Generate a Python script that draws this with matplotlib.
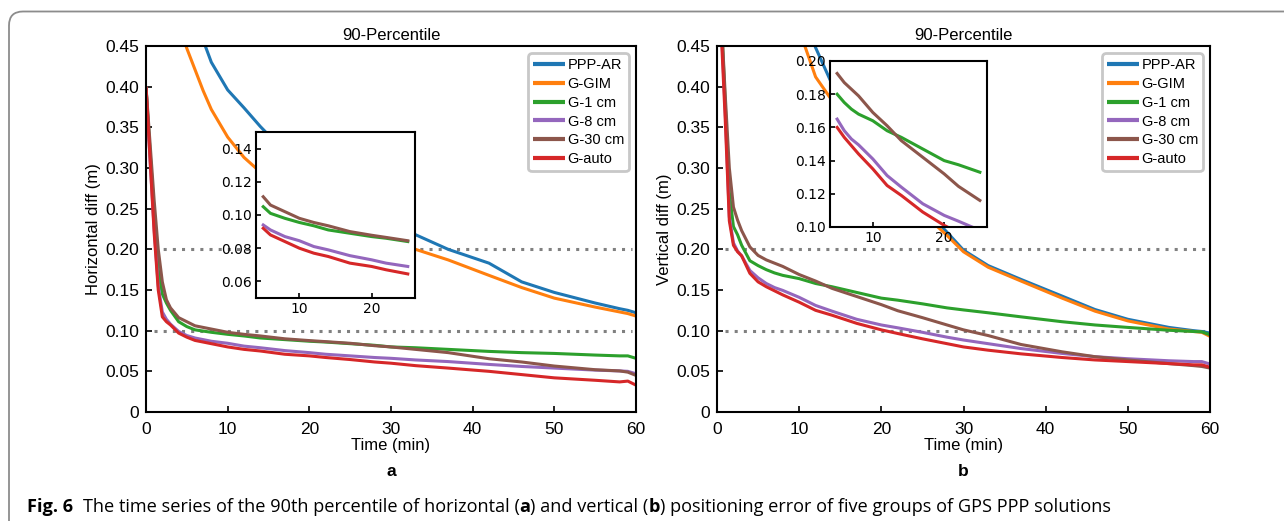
import numpy as np
import matplotlib
matplotlib.use("Agg")
import matplotlib.pyplot as plt
from matplotlib.patches import FancyBboxPatch
from matplotlib.transforms import IdentityTransform
from matplotlib.ticker import FuncFormatter

SERIES = ["PPP-AR", "G-GIM", "G-1 cm", "G-8 cm", "G-30 cm", "G-auto"]
COLORS = ["#1f77b4", "#ff7f0e", "#2ca02c", "#9467bd", "#8c564b", "#d62728"]
THRESHOLDS = [0.10, 0.20]

# time grid (min), shared by both panels
time_min = [0, 0.5, 1, 1.5, 2, 2.5, 3, 4, 5, 6, 7, 8, 10, 12, 14, 17, 20, 22, 25,
            28, 30, 33, 37, 42, 46, 50, 55, 58, 59, 60]
nan = np.nan

# (a) horizontal 90th percentile (m)
h_ppp_ar = [nan, nan, nan, nan, nan, nan, nan, nan, nan, 0.49, 0.457, 0.43, 0.396, 0.374,
            0.351, 0.32, 0.293, 0.277, 0.257, 0.240, 0.232, 0.218, 0.200, 0.183, 0.160,
            0.147, 0.134, 0.127, 0.125, 0.122]
h_g_gim = [nan, nan, nan, nan, nan, nan, nan, 0.478, 0.447, 0.421, 0.395, 0.372, 0.338, 0.313,
           0.295, 0.272, 0.252, 0.241, 0.228, 0.216, 0.210, 0.200, 0.187, 0.168, 0.153,
           0.140, 0.129, 0.123, 0.121, 0.118]
h_g_1cm = [0.40, 0.32, 0.245, 0.175, 0.145, 0.134, 0.125, 0.111, 0.105, 0.101, 0.0995, 0.098,
           0.0955, 0.0935, 0.091, 0.089, 0.087, 0.086, 0.084, 0.082, 0.080, 0.079, 0.077,
           0.0745, 0.073, 0.072, 0.070, 0.069, 0.069, 0.066]
h_g_8cm = [0.40, 0.31, 0.225, 0.155, 0.123, 0.114, 0.108, 0.099, 0.094, 0.091, 0.089, 0.087,
           0.0845, 0.081, 0.079, 0.0755, 0.073, 0.071, 0.069, 0.067, 0.066, 0.064, 0.062,
           0.0585, 0.056, 0.054, 0.0515, 0.0505, 0.050, 0.047]
h_g_30cm = [0.40, 0.33, 0.26, 0.20, 0.16, 0.138, 0.128, 0.116, 0.111, 0.106, 0.104, 0.102,
            0.098, 0.0955, 0.0935, 0.090, 0.0878, 0.0865, 0.0845, 0.0815, 0.080, 0.077,
            0.073, 0.0655, 0.0615, 0.0565, 0.052, 0.0505, 0.049, 0.045]
h_g_auto = [0.40, 0.31, 0.22, 0.15, 0.117, 0.111, 0.107, 0.097, 0.092, 0.088, 0.086, 0.084,
            0.080, 0.077, 0.075, 0.071, 0.069, 0.067, 0.0645, 0.0615, 0.060, 0.057, 0.054,
            0.050, 0.046, 0.042, 0.039, 0.037, 0.038, 0.033]

# (b) vertical 90th percentile (m)
v_ppp_ar = [nan, nan, nan, nan, nan, nan, nan, nan, nan, nan, nan, nan, 0.50, 0.448, 0.403,
            0.35, 0.31, 0.285, 0.253, 0.221, 0.199, 0.180, 0.163, 0.1425, 0.126, 0.114,
            0.104, 0.100, 0.099, 0.097]
v_g_gim = [nan, nan, nan, nan, nan, nan, nan, nan, nan, nan, nan, nan, 0.47, 0.412, 0.383,
           0.34, 0.30, 0.278, 0.245, 0.217, 0.197, 0.178, 0.161, 0.140, 0.124, 0.112,
           0.102, 0.099, 0.098, 0.093]
v_g_1cm = [0.62, 0.49, 0.38, 0.27, 0.228, 0.218, 0.205, 0.186, 0.180, 0.175, 0.171, 0.168,
           0.164, 0.158, 0.154, 0.147, 0.140, 0.1375, 0.133, 0.128, 0.1255, 0.122, 0.117,
           0.111, 0.107, 0.104, 0.1005, 0.099, 0.0985, 0.095]
v_g_8cm = [0.62, 0.48, 0.37, 0.24, 0.208, 0.198, 0.192, 0.174, 0.165, 0.158, 0.153, 0.1495,
           0.141, 0.131, 0.124, 0.114, 0.107, 0.1035, 0.098, 0.092, 0.0885, 0.084, 0.078,
           0.072, 0.068, 0.0655, 0.063, 0.062, 0.062, 0.059]
v_g_30cm = [0.62, 0.49, 0.39, 0.30, 0.252, 0.236, 0.223, 0.203, 0.1925, 0.187, 0.183, 0.179,
            0.169, 0.161, 0.152, 0.142, 0.132, 0.1245, 0.116, 0.107, 0.101, 0.094, 0.083,
            0.074, 0.068, 0.064, 0.0595, 0.057, 0.056, 0.054]
v_g_auto = [0.62, 0.47, 0.36, 0.235, 0.205, 0.197, 0.192, 0.1705, 0.160, 0.154, 0.149, 0.144,
            0.135, 0.125, 0.119, 0.109, 0.101, 0.0965, 0.090, 0.084, 0.080, 0.076, 0.0715,
            0.067, 0.064, 0.062, 0.0595, 0.058, 0.058, 0.055]

PANELS = [
    dict(ylabel="Horizontal diff (m)", tag="a",
         data=[h_ppp_ar, h_g_gim, h_g_1cm, h_g_8cm, h_g_30cm, h_g_auto],
         inset_ylim=(0.05, 0.15), inset_yticks=[0.06, 0.08, 0.10, 0.12, 0.14],
         ax_rect=[146, 46, 636, 412], inset_rect=[256, 132, 415, 298]),
    dict(ylabel="Vertical diff (m)", tag="b",
         data=[v_ppp_ar, v_g_gim, v_g_1cm, v_g_8cm, v_g_30cm, v_g_auto],
         inset_ylim=(0.10, 0.20), inset_yticks=[0.10, 0.12, 0.14, 0.16, 0.18, 0.20],
         ax_rect=[717, 46, 1210, 412], inset_rect=[830, 61, 987, 227]),
]

W, H = 1284, 521
MAIN_FONT = "Liberation Sans"
plt.rcParams["font.family"] = [MAIN_FONT, "DejaVu Sans"]
plt.rcParams["font.size"] = 12


def px_rect(r):
    x0, y0, x1, y1 = r
    return [x0 / W, 1 - y1 / H, (x1 - x0) / W, (y1 - y0) / H]


def main_fmt(v, _):
    return "0" if abs(v) < 1e-9 else f"{v:.2f}"


fig = plt.figure(figsize=(W / 100, H / 100), dpi=100)
t = np.array(time_min)

for panel in PANELS:
    ax = fig.add_axes(px_rect(panel["ax_rect"]))
    for name, color, vals in zip(SERIES, COLORS, panel["data"]):
        ax.plot(t, vals, color=color, lw=2.2, label=name, solid_capstyle="butt")
    ax.hlines(THRESHOLDS, 1, 59.5, colors="#808080", lw=2.2,
              linestyles=[(0, (1.0, 2.0))], zorder=1)
    ax.set_xlim(0, 60)
    ax.set_ylim(0, 0.45)
    ax.set_xticks(np.arange(0, 61, 10))
    ax.set_yticks(np.arange(0, 0.451, 0.05))
    ax.yaxis.set_major_formatter(FuncFormatter(main_fmt))
    ax.tick_params(direction="in", length=4, width=1.2, labelsize=12.5, pad=5)
    ax.tick_params(axis="x", pad=7)
    for s in ax.spines.values():
        s.set_linewidth(1.5)
    ax.set_title("90-Percentile", fontsize=12, pad=4)
    ax.set_xlabel("Time (min)", fontsize=12, labelpad=1)
    ax.set_ylabel(panel["ylabel"], fontsize=12, labelpad=3)

    x0, y0, x1, y1 = panel["ax_rect"]
    aw, ah = x1 - x0, y1 - y0
    leg = ax.legend(loc="upper right", bbox_to_anchor=(1 - 7 / aw, 1 - 7 / ah),
                    borderaxespad=0, fontsize=10.5, handlelength=2.2,
                    handletextpad=0.15, labelspacing=0.33, borderpad=0.35,
                    fancybox=True, framealpha=1)
    frame = leg.get_frame()
    frame.set_edgecolor("#c8c8c8")
    frame.set_linewidth(2.0)
    frame.set_boxstyle("round", pad=0, rounding_size=0.25)
    for h in leg.legend_handles:
        h.set_linewidth(3)

    ins = fig.add_axes(px_rect(panel["inset_rect"]))
    ins.set_facecolor("white")
    sel = (t >= 5) & (t <= 25)
    for color, vals in zip(COLORS, panel["data"]):
        ins.plot(t[sel], np.array(vals)[sel], color=color, lw=2.2)
    ins.set_xlim(4, 26)
    ins.set_ylim(*panel["inset_ylim"])
    ins.set_xticks([10, 20])
    ins.set_yticks(panel["inset_yticks"])
    ins.yaxis.set_major_formatter(FuncFormatter(lambda v, _: f"{v:.2f}"))
    ins.tick_params(direction="in", length=3.5, width=1.2, labelsize=10, pad=3)
    for lab in ins.get_xticklabels() + ins.get_yticklabels():
        lab.set_fontfamily("DejaVu Sans")
    for s in ins.spines.values():
        s.set_linewidth(1.5)

    fig.text((x0 + x1) / 2 / W, 1 - 471 / H, panel["tag"], ha="center", va="center",
             fontsize=12.5, fontweight="bold")

# outer frame of the figure box
fig.add_artist(FancyBboxPatch((9, -60), 1400, H - 11.5 + 60,
                              boxstyle="round,pad=0,rounding_size=14",
                              transform=IdentityTransform(), fill=False,
                              ec="#8c8c8c", lw=1.3))

# caption drawn as runs of normal / bold text
CAP_FONT = "Open Sans"
CAP_SIZE = 13.1
runs = [("Fig. 6", "bold", 2.0),
        ("The time series of the 90th percentile of horizontal (", "normal", 0),
        ("a", "bold", 0),
        (") and vertical (", "normal", 0),
        ("b", "bold", 0),
        (") positioning error of five groups of GPS PPP solutions", "normal", 0)]
renderer = fig.canvas.get_renderer()
probe = fig.text(0, 0, "x x", family=CAP_FONT, size=CAP_SIZE)
w_sp = probe.get_window_extent(renderer).width
probe.set_text("xx")
w_sp -= probe.get_window_extent(renderer).width
probe.remove()
xpix = 27
for text, weight, gap in runs:
    tx = fig.text(xpix / W, 1 - 507 / H, text, family=CAP_FONT, size=CAP_SIZE,
                  weight=weight, ha="left", va="center")
    xpix += tx.get_window_extent(renderer).width + gap * w_sp

fig.savefig("out.png", dpi=100)
